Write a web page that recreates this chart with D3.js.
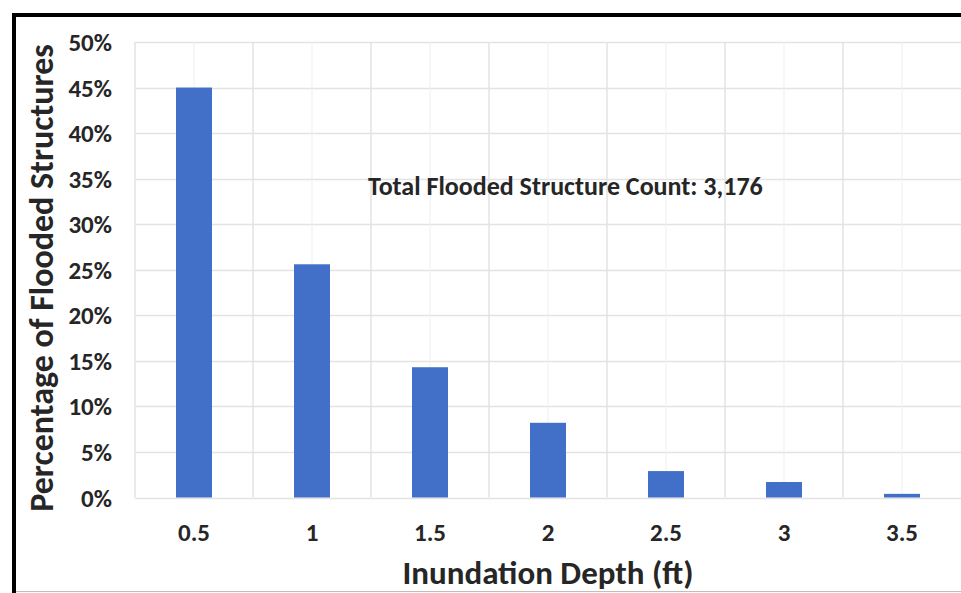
<!DOCTYPE html>
<html>
<head>
<meta charset="utf-8">
<script src="https://cdn.jsdelivr.net/npm/d3@7"></script>
<style>
  html, body { margin: 0; padding: 0; background: #fff; }
  svg { display: block; }
  text { font-family: Carlito, Calibri, Lato, "Open Sans", sans-serif; font-weight: 700; fill: #262626; }
</style>
</head>
<body>
<svg id="chart" width="961" height="593"></svg>
<script>
// ---- data ----
const categories = ["0.5", "1", "1.5", "2", "2.5", "3", "3.5"];
const percentages = [0.450, 0.256, 0.143, 0.082, 0.029, 0.017, 0.004];
const yTickValues = [0, 0.05, 0.10, 0.15, 0.20, 0.25, 0.30, 0.35, 0.40, 0.45, 0.50];
const xAxisTitle = "Inundation Depth (ft)";
const yAxisTitle = "Percentage of Flooded Structures";
const annotation = "Total Flooded Structure Count: 3,176";

const svg = d3.select("#chart");
const W = 961, H = 593;
const plot = { left: 135, right: 961, top: 42, bottom: 497.5 };

const x = d3.scaleBand().domain(categories).range([plot.left, plot.right]).padding(0);
const y = d3.scaleLinear().domain([0, 0.5]).range([plot.bottom, plot.top]);
const barFrac = 0.305;

// background
svg.append("rect").attr("x", 0).attr("y", 0).attr("width", W).attr("height", H).attr("fill", "#fff");

// frame
svg.append("line").attr("x1", 12).attr("x2", W).attr("y1", 15).attr("y2", 15)
  .attr("stroke", "#000").attr("stroke-width", 4);
svg.append("line").attr("x1", 14).attr("x2", 14).attr("y1", 13).attr("y2", H)
  .attr("stroke", "#000").attr("stroke-width", 4);
svg.append("line").attr("x1", 16).attr("x2", W).attr("y1", 591.5).attr("y2", 591.5)
  .attr("stroke", "#bfbfbf").attr("stroke-width", 1);

// grid: horizontal
const grid = svg.append("g");
grid.selectAll("line.h").data(yTickValues).join("line").attr("class", "h")
  .attr("x1", plot.left).attr("x2", plot.right)
  .attr("y1", d => Math.round(y(d)) + 0.5).attr("y2", d => Math.round(y(d)) + 0.5)
  .attr("stroke", "#e3e3e3").attr("stroke-width", 1.5);
// grid: vertical major (category boundaries)
grid.selectAll("line.v").data(categories).join("line").attr("class", "v")
  .attr("x1", d => x(d)).attr("x2", d => x(d))
  .attr("y1", plot.top).attr("y2", plot.bottom)
  .attr("stroke", "#e3e3e3").attr("stroke-width", 1.5);
// grid: vertical minor (category centres)
grid.selectAll("line.m").data(categories).join("line").attr("class", "m")
  .attr("x1", d => x(d) + x.bandwidth() / 2).attr("x2", d => x(d) + x.bandwidth() / 2)
  .attr("y1", plot.top).attr("y2", plot.bottom)
  .attr("stroke", "#efefef").attr("stroke-width", 1);

// bars
svg.append("g").selectAll("rect").data(categories).join("rect")
  .attr("x", d => x(d) + x.bandwidth() * (1 - barFrac) / 2)
  .attr("width", x.bandwidth() * barFrac)
  .attr("y", (d, i) => y(percentages[i]))
  .attr("height", (d, i) => y(0) - y(percentages[i]))
  .attr("fill", "#4270c8");

// y axis
const yAxis = d3.axisLeft(y).tickValues(yTickValues).tickFormat(d3.format(".0%")).tickSize(0).tickPadding(0);
const gy = svg.append("g").attr("transform", `translate(112,0)`).call(yAxis);
gy.select(".domain").remove();
gy.selectAll("text").attr("font-size", 25).attr("fill", "#262626").attr("dy", "0.34em")
  .style("font-family", "Carlito, Calibri, Lato, sans-serif").style("font-weight", 700);

// x axis
const xAxis = d3.axisBottom(x).tickSize(0).tickPadding(0);
const gx = svg.append("g").attr("transform", `translate(0,${plot.bottom + 26})`).call(xAxis);
gx.select(".domain").remove();
gx.selectAll("text").attr("font-size", 25).attr("fill", "#262626")
  .style("font-family", "Carlito, Calibri, Lato, sans-serif").style("font-weight", 700);

// axis titles
svg.append("text").attr("x", 548).attr("y", 584).attr("text-anchor", "middle")
  .attr("font-size", 33).text(xAxisTitle);
svg.append("text").attr("transform", `translate(53,${(38 + 518) / 2}) rotate(-90)`)
  .attr("text-anchor", "middle").attr("font-size", 34).text(yAxisTitle);

// annotation
svg.append("text").attr("x", 368).attr("y", 195).attr("font-size", 26).text(annotation);
</script>
</body>
</html>
